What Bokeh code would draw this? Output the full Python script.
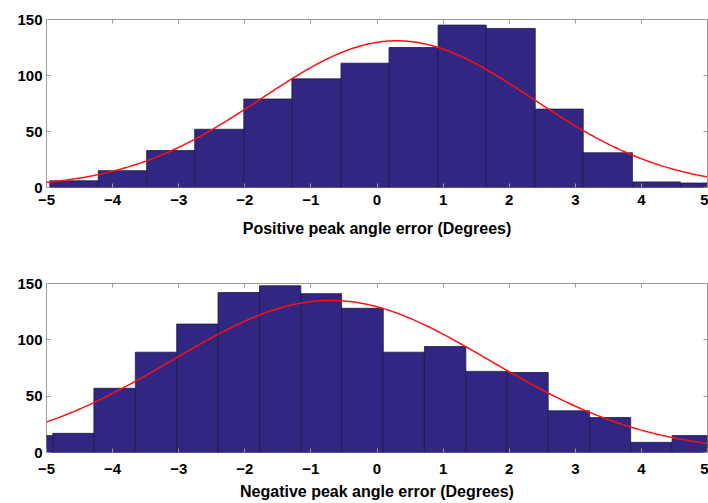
import numpy as np
from bokeh.plotting import figure
from bokeh.layouts import column
from bokeh.models import Range1d, LinearAxis, FixedTicker
from bokeh.embed import file_html
from bokeh.resources import INLINE

# Histogram of the positive peak angle error (bin edges in degrees, counts per bin)
pos_edges = [-4.95, -4.217, -3.485, -2.758, -2.015, -1.288, -0.545, 0.182,
             0.924, 1.652, 2.394, 3.12, 3.864, 4.59, 5.32]
pos_counts = [6, 15, 33, 52, 79, 97, 111, 125, 145, 142, 70, 31, 5, 4]
# Normal fit: mean, standard deviation, peak height
pos_fit = (0.3, 2.05, 131)

# Histogram of the negative peak angle error
neg_edges = [-5.53, -4.905, -4.283, -3.656, -3.03, -2.405, -1.777, -1.152,
             -0.535, 0.095, 0.717, 1.344, 1.97, 2.59, 3.217, 3.838, 4.465, 5.09]
neg_counts = [15, 17, 57, 89, 114, 142, 148, 141, 128, 89, 94, 72, 71, 37, 31, 9, 15]
neg_fit = (-0.7, 2.4, 135)

x_ticks = [-5, -4, -3, -2, -1, 0, 1, 2, 3, 4, 5]
y_ticks = [0, 50, 100, 150]

BAR = "#312682"
FONT = "Liberation Sans"
BOX = "#9a9a9a"


def panel(edges, counts, fit, xlabel, height, top, bottom, tick_standoff, label_standoff):
    p = figure(width=708, height=height, x_range=Range1d(-5, 5), y_range=Range1d(0, 150),
               output_backend="svg", toolbar_location=None,
               min_border_left=46, min_border_right=1,
               min_border_top=top, min_border_bottom=bottom)
    p.xgrid.visible = False
    p.ygrid.visible = False
    p.outline_line_color = BOX
    p.outline_line_width = 1

    p.quad(left=edges[:-1], right=edges[1:], bottom=0, top=counts,
           fill_color=BAR, line_color="#1e1a45", line_width=0.8)

    mu, sigma, peak = fit
    xs = np.linspace(-5, 5, 400)
    ys = peak * np.exp(-((xs - mu) ** 2) / (2 * sigma ** 2))
    p.line(xs, ys, line_color="#ff1010", line_width=1.5)

    for ax, ticks in ((p.xaxis[0], x_ticks), (p.yaxis[0], y_ticks)):
        ax.ticker = FixedTicker(ticks=ticks)
        ax.axis_line_color = None
        ax.major_tick_in = 4
        ax.major_tick_out = 0
        ax.major_tick_line_color = BOX
        ax.minor_tick_line_color = None
        ax.major_label_text_font = FONT
        ax.major_label_text_font_style = "bold"
        ax.major_label_text_font_size = "15px"
        ax.major_label_text_color = "black"
    p.xaxis.major_label_standoff = tick_standoff
    p.yaxis.major_label_standoff = 4

    p.xaxis.axis_label = xlabel
    p.xaxis.axis_label_text_font = FONT
    p.xaxis.axis_label_text_font_style = "bold"
    p.xaxis.axis_label_text_font_size = "16px"
    p.xaxis.axis_label_text_color = "black"
    p.xaxis.axis_label_standoff = label_standoff

    # Tick marks on the top and right edges of the box, without labels
    for side, ticks in (("above", x_ticks), ("right", y_ticks)):
        ax = LinearAxis(ticker=FixedTicker(ticks=ticks), axis_line_color=None,
                        major_tick_in=4, major_tick_out=0, major_tick_line_color=BOX,
                        minor_tick_line_color=None, major_label_standoff=0,
                        major_label_overrides={t: "" for t in ticks})
        p.add_layout(ax, side)
    return p


top_panel = panel(pos_edges, pos_counts, pos_fit, "Positive peak angle error (Degrees)",
                  250, 19, 63, 7, 12)
bottom_panel = panel(neg_edges, neg_counts, neg_fit, "Negative peak angle error (Degrees)",
                     253, 33, 51, 11, 6)

layout = column(top_panel, bottom_panel, spacing=0)
open("out.html", "w").write(file_html(layout, INLINE))
